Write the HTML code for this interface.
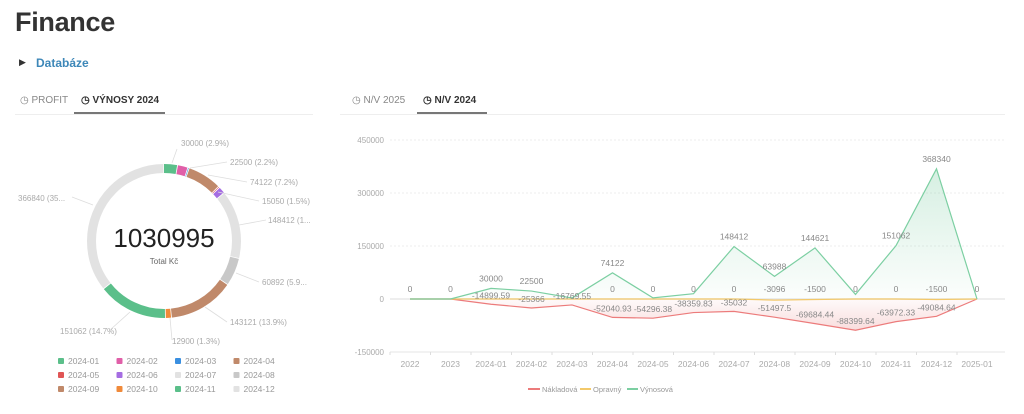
<!DOCTYPE html>
<html><head><meta charset="utf-8">
<style>
body{margin:0;width:1024px;height:414px;background:#fff;font-family:"Liberation Sans",sans-serif;overflow:hidden;position:relative;color:#333}
.a{position:absolute;white-space:nowrap}
</style></head><body>
<div class="a" style="left:15px;top:7px;font-size:27px;font-weight:bold;color:#333;letter-spacing:-0.3px">Finance</div>
<div class="a" style="left:19px;top:57px;font-size:9px;color:#333">&#9654;</div>
<div class="a" style="left:36px;top:56px;font-size:12px;font-weight:bold;color:#3d87b8">Databáze</div>
<div class="a" style="left:20px;top:95px;font-size:10px;color:#888">&#9719; PROFIT</div>
<div class="a" style="left:81px;top:95px;font-size:10px;color:#333;font-weight:bold">&#9719; VÝNOSY 2024</div>
<div class="a" style="left:74px;top:112px;width:91px;height:2px;background:#777"></div>
<div class="a" style="left:15px;top:114px;width:298px;height:1px;background:#eee"></div>
<div class="a" style="left:352px;top:95px;font-size:10px;color:#888">&#9719; N/V 2025</div>
<div class="a" style="left:423px;top:95px;font-size:10px;color:#333;font-weight:bold">&#9719; N/V 2024</div>
<div class="a" style="left:417px;top:112px;width:70px;height:2px;background:#777"></div>
<div class="a" style="left:340px;top:114px;width:665px;height:1px;background:#eee"></div>
<svg id="s" class="a" style="left:0;top:0" width="1024" height="414" font-family="Liberation Sans,sans-serif"></svg>
<script>
var s='';
var cx=164,cy=241,r=72.5,C=2*Math.PI*r;
var seg=[[30000,'#5bbf8a'],[22500,'#e05fa8'],[3000,'#3a8fe0'],[74122,'#c0896a'],[3096,'#e05555'],[15050,'#a56de2'],[148412,'#e2e2e2'],[60892,'#c8c8c8'],[143121,'#c0896a'],[12900,'#f08a3a'],[151062,'#5bbf8a'],[366840,'#e2e2e2']];
var tot=1030995,acc=0;
seg.forEach(function(g){var L=g[0]/tot*C;s+='<circle cx="'+cx+'" cy="'+cy+'" r="'+r+'" fill="none" stroke="'+g[1]+'" stroke-width="9" stroke-dasharray="'+Math.max(L-0.8,0.5)+' '+C+'" stroke-dashoffset="'+(-acc)+'" transform="rotate(-90 '+cx+' '+cy+')"/>';acc+=L;});
s+='<text x="164" y="247" font-size="26" text-anchor="middle" fill="#222">1030995</text><text x="164" y="264" font-size="8" text-anchor="middle" fill="#666">Total Kč</text>';
var pl=[[181,146,'30000 (2.9%)',172,163,177,149],[230,165,'22500 (2.2%)',190,168,227,162],[250,185,'74122 (7.2%)',208,175,247,182],[262,204,'15050 (1.5%)',218,192,259,201],[268,223,'148412 (1...',239,225,266,220],[262,285,'60892 (5.9...',236,273,259,282],[230,325,'143121 (13.9%)',205,307,227,322],[172,344,'12900 (1.3%)',170,318,172,340],[60,334,'151062 (14.7%)',130,312,110,330],[18,201,'366840 (35...',93,205,72,197]];
pl.forEach(function(p){s+='<polyline points="'+p[3]+','+p[4]+' '+p[5]+','+p[6]+'" fill="none" stroke="#ddd" stroke-width="0.8"/><text x="'+p[0]+'" y="'+p[1]+'" font-size="8" fill="#aaa">'+p[2]+'</text>';});
var lg=['2024-01','2024-02','2024-03','2024-04','2024-05','2024-06','2024-07','2024-08','2024-09','2024-10','2024-11','2024-12'];
var lc=['#5bbf8a','#e05fa8','#3a8fe0','#c0896a','#e05555','#a56de2','#e2e2e2','#c8c8c8','#c0896a','#f08a3a','#5bbf8a','#e2e2e2'];
lg.forEach(function(t,i){var x=58+(i%4)*58.5,y=364+Math.floor(i/4)*14;s+='<rect x="'+x+'" y="'+(y-6)+'" width="6" height="6" rx="1" fill="'+lc[i]+'"/><text x="'+(x+10)+'" y="'+y+'" font-size="8.5" fill="#999">'+t+'</text>';});
function Y(v){return 299-v*53/150000}
function X(i){return 410+i*40.5}
[[450000,'450000'],[300000,'300000'],[150000,'150000'],[0,'0'],[-150000,'-150000']].forEach(function(t){var y=Y(t[0]);s+='<text x="384" y="'+(y+3)+'" font-size="8" text-anchor="end" fill="#aaa">'+t[1]+'</text>';if(t[0]>0)s+='<line x1="390" x2="1005" y1="'+y+'" y2="'+y+'" stroke="#eee" stroke-dasharray="2,2"/>';});
s+='<line x1="390" x2="1005" y1="299" y2="299" stroke="#e8e8e8" stroke-width="1.5"/><line x1="390" x2="1005" y1="352" y2="352" stroke="#e6e6e6"/>';
var xl=['2022','2023','2024-01','2024-02','2024-03','2024-04','2024-05','2024-06','2024-07','2024-08','2024-09','2024-10','2024-11','2024-12','2025-01'];
xl.forEach(function(t,i){s+='<text x="'+X(i)+'" y="367" font-size="8.5" text-anchor="middle" fill="#aaa">'+t+'</text><line x1="'+(X(i)-20)+'" x2="'+(X(i)-20)+'" y1="352" y2="355" stroke="#ddd"/>';});
var V=[0,0,30000,22500,3000,74122,3096,15050,148412,63988,144621,12900,151062,368340,0];
var N=[0,0,-14899.59,-25366,-16769.55,-52040.93,-54296.38,-38359.83,-35032,-51497.5,-69684.44,-88399.64,-63972.33,-49084.64,0];
var O=[0,0,0,0,0,0,0,0,0,-3096,-1500,0,0,-1500,0];
s+='<defs><linearGradient id="gv" x1="0" y1="0" x2="0" y2="1"><stop offset="0" stop-color="#5bbf8a" stop-opacity="0.25"/><stop offset="1" stop-color="#5bbf8a" stop-opacity="0.02"/></linearGradient><linearGradient id="gn" x1="0" y1="1" x2="0" y2="0"><stop offset="0" stop-color="#e05555" stop-opacity="0.2"/><stop offset="1" stop-color="#e05555" stop-opacity="0.03"/></linearGradient></defs>';
function pts(a){return a.map(function(v,i){return X(i)+','+Y(v)}).join(' ')}
s+='<polygon points="'+X(0)+',299 '+pts(V)+' '+X(14)+',299" fill="url(#gv)"/>';
s+='<polygon points="'+X(0)+',299 '+pts(N)+' '+X(14)+',299" fill="url(#gn)"/>';
s+='<polyline points="'+pts(N)+'" fill="none" stroke="#ec7b7b" stroke-width="1.2"/>';
s+='<polyline points="'+pts(O)+'" fill="none" stroke="#f3c96a" stroke-width="1.2"/>';
s+='<polyline points="'+pts(V)+'" fill="none" stroke="#7ccfa2" stroke-width="1.2"/>';
function lab(x,y,t){s+='<text x="'+x+'" y="'+y+'" font-size="8.5" text-anchor="middle" fill="#888">'+t+'</text>';}
var vl={2:'30000',3:'22500',5:'74122',8:'148412',9:'63988',10:'144621',12:'151062',13:'368340'};
for(var k in vl){lab(X(+k),Y(V[k])-7,vl[k]);}
var ol=['0','0','','','','0','0','0','0','-3096','-1500','0','0','-1500','0'];
ol.forEach(function(t,i){if(t)lab(X(i),292,t);});
N.forEach(function(v,i){if(i>=2&&i<=13)lab(X(i),Y(v)-6,String(v));});
s+='<line x1="528" x2="540" y1="389" y2="389" stroke="#ec7b7b" stroke-width="2"/><text x="542" y="392" font-size="7.5" fill="#999">Nákladová</text>';
s+='<line x1="580" x2="591" y1="389" y2="389" stroke="#f3c96a" stroke-width="2"/><text x="593" y="392" font-size="7.5" fill="#999">Opravný</text>';
s+='<line x1="627" x2="638" y1="389" y2="389" stroke="#7ccfa2" stroke-width="2"/><text x="640" y="392" font-size="7.5" fill="#999">Výnosová</text>';
document.getElementById('s').innerHTML=s;
</script>
</body></html>
